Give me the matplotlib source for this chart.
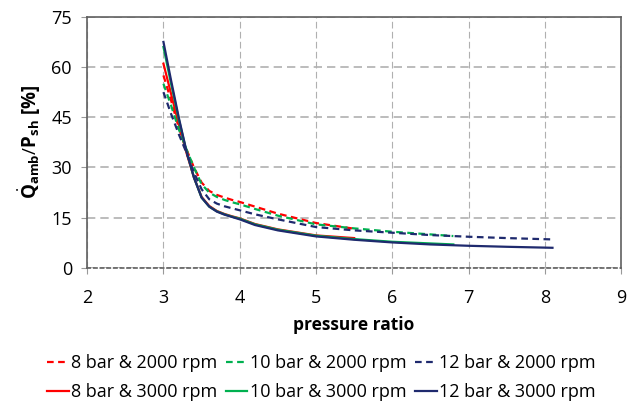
import numpy as np
import matplotlib
matplotlib.use("Agg")
import matplotlib.pyplot as plt

plt.rcParams['font.family'] = ['Open Sans', 'DejaVu Sans']
plt.rcParams['mathtext.fontset'] = 'custom'
plt.rcParams['mathtext.rm'] = 'Open Sans'
plt.rcParams['mathtext.bf'] = 'Open Sans:bold'

# pressure ratio points
x_8 = [3.0, 3.1, 3.2, 3.3, 3.4, 3.5, 3.6, 3.7, 3.8, 3.9, 4.0, 4.2, 4.5, 5.0, 5.5]
x_10 = [3.0, 3.1, 3.2, 3.3, 3.4, 3.5, 3.6, 3.7, 3.8, 3.9, 4.0, 4.2, 4.5, 5.0, 5.5, 6.0, 6.5, 6.8]
x_12 = [3.0, 3.1, 3.2, 3.3, 3.4, 3.5, 3.6, 3.7, 3.8, 3.9, 4.0, 4.2, 4.5, 5.0, 5.5, 6.0, 6.5, 7.0, 7.5, 8.1]

# Q_amb / P_sh [%]
y_8_2000 = [57.5, 50, 42, 35.5, 30, 25.5, 23, 21.8, 21, 20.3, 19.7, 18.3, 16.2, 13.4, 11.7]
y_10_2000 = [55, 48.5, 41.5, 35.5, 30, 25, 22.5, 21.2, 20.3, 19.6, 19, 17.6, 15.6, 13, 11.8, 10.8, 10, 9.5]
y_12_2000 = [52.5, 46, 40, 34.5, 28.5, 23.5, 20.5, 19.2, 18.4, 17.8, 17.2, 16.0, 14.5, 12.2, 11.2, 10.5, 9.8, 9.3, 8.9, 8.5]
y_8_3000 = [61, 52, 43, 34.5, 27, 21.2, 18.5, 17, 16.1, 15.4, 14.8, 13.1, 11.5, 9.7, 8.9]
y_10_3000 = [66, 55, 44.5, 35, 27, 21, 18.3, 16.9, 16.0, 15.3, 14.7, 13, 11.4, 9.6, 8.6, 7.8, 7.3, 7.0]
y_12_3000 = [67.5, 56, 45, 35, 27, 21, 18.3, 16.8, 15.9, 15.2, 14.5, 12.8, 11.2, 9.4, 8.4, 7.6, 7.0, 6.6, 6.3, 6.0]

red = '#ff0000'
green = '#00b050'
navy = '#1f2a6e'

fig = plt.figure(figsize=(6.41, 4.01), dpi=100)
ax = fig.add_axes([0.136, 0.332, 0.833, 0.626])

dash = (0, (3, 2))
ax.plot(x_8, y_8_2000, color=red, lw=1.6, ls=dash, label='8 bar & 2000 rpm')
ax.plot(x_8, y_8_3000, color=red, lw=1.6, label='8 bar & 3000 rpm')
ax.plot(x_10, y_10_2000, color=green, lw=1.6, ls=dash, label='10 bar & 2000 rpm')
ax.plot(x_10, y_10_3000, color=green, lw=1.6, label='10 bar & 3000 rpm')
ax.plot(x_12, y_12_2000, color=navy, lw=1.6, ls=dash, label='12 bar & 2000 rpm')
ax.plot(x_12, y_12_3000, color=navy, lw=1.6, label='12 bar & 3000 rpm')

ax.set_xlim(2, 9)
ax.set_ylim(0, 75)
ax.set_xticks(np.arange(2, 10, 1))
ax.set_yticks(np.arange(0, 76, 15))
ax.tick_params(labelsize=13, length=4, color='#999999')
ax.tick_params(axis='x', pad=11)
ax.tick_params(axis='y', pad=7)
ax.grid(axis='y', color='#b0b0b0', ls=(0, (5, 3)), lw=1.2)
ax.grid(axis='x', color='#b0b0b0', ls=(0, (6, 3)), lw=0.8)
ax.set_axisbelow(True)
for s in ['left', 'top', 'right']:
    ax.spines[s].set_color('#606060')
    ax.spines[s].set_linewidth(1.2)
ax.spines['bottom'].set_color('#606060')
ax.spines['bottom'].set_linestyle((0, (2, 2)))
ax.spines['bottom'].set_linewidth(1.2)

fig.text(354 / 641, 1 - 325 / 401, 'pressure ratio', fontsize=12.5, fontweight='bold',
         ha='center', va='center')
ax.set_ylabel(r'$\dot{\mathbf{Q}}_{\mathbf{amb}}/\mathbf{P}_{\mathbf{sh}}$ [%]', fontsize=13.5,
              fontweight='bold', labelpad=6)

fig.legend(loc='upper left', bbox_to_anchor=(47 / 641, 1 - 354 / 401), ncol=3, frameon=False,
           fontsize=13, handlelength=1.2, handletextpad=0.15, columnspacing=0.45,
           labelspacing=0.6, borderpad=0, borderaxespad=0)

plt.savefig('out.png', dpi=100)
